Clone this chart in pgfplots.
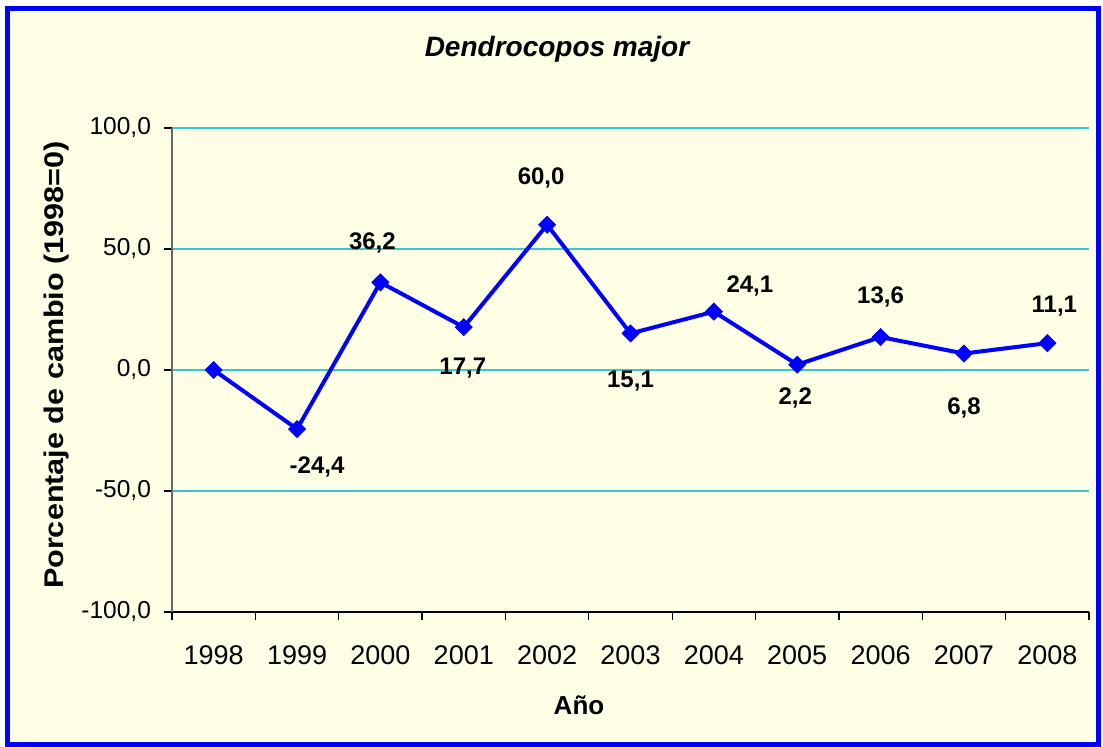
\documentclass[border=0pt]{standalone}
\usepackage{pgfplots}
\pgfplotsset{compat=1.18}
\usepackage{pgfplotstable}
\usepackage{graphicx}
\usepackage{fontspec}
\setmainfont{Liberation Sans}
\definecolor{bgy}{RGB}{255,255,230}
\definecolor{gridc}{RGB}{51,204,204}
\definecolor{lineb}{RGB}{0,0,255}

\pgfplotstableread{
x y label dx dy
0 0 {} 0 0
1 -24.4 {-24,4} 10 -19
2 36.2 {36,2} -4 19.5
3 17.7 {17,7} -0.5 -20.5
4 60.0 {60,0} -3 23.5
5 15.1 {15,1} 0 -24
6 24.1 {24,1} 18 13
7 2.2 {2,2} -1 -16.5
8 13.6 {13,6} 0 20
9 6.8 {6,8} 0 -27
10 11.1 {11,1} 3.5 18.5
}\datatable

\begin{document}
\begin{tikzpicture}
\useasboundingbox (0,0) rectangle (551.5pt,373.5pt);
\fill[white] (0,0) rectangle (551.5pt,373.5pt);
\draw[lineb, line width=2.5pt, fill=bgy] (3.75pt,1.25pt) rectangle (549.25pt,369.25pt);
\begin{axis}[
  at={(86pt,67.5pt)}, anchor=south west,
  width=458.5pt, height=242pt, scale only axis,
  xmin=-0.5, xmax=10.5, ymin=-100, ymax=100,
  axis lines=left, axis line style={-},
  x axis line style={black, line width=0.6pt},
  y axis line style={gray!80!black, line width=0.8pt},
  xtick={-0.5,0.5,...,10.5}, x tick label as interval,
  xticklabels={1998,1999,2000,2001,2002,2003,2004,2005,2006,2007,2008},
  ytick={-100,-50,0,50,100},
  yticklabels={{-100,0},{-50,0},{0,0},{50,0},{100,0}},
  ymajorgrids, grid style={gridc, line width=0.7pt},
  tick align=outside, major tick length=4pt,
  tick style={black, line width=0.6pt},
  xticklabel style={font=\fontsize{13.5}{16}\selectfont, yshift=-9.5pt},
  yticklabel style={font=\fontsize{12.25}{14}\selectfont, xshift=-3pt},
  clip=false,
]
\addplot[lineb, line width=2pt, mark=square*, mark size=3pt,
  mark options={rotate=45, fill=lineb, draw=lineb, line width=0.4pt},
  nodes near coords, point meta=explicit symbolic,
  visualization depends on={\thisrow{dx}\as\dx},
  visualization depends on={\thisrow{dy}\as\dy},
  every node near coord/.append style={anchor=center, xshift=\dx pt, yshift=\dy pt,
    font=\fontsize{12}{14}\selectfont\bfseries, text=black}]
  table[x=x, y=y, meta=label]{\datatable};
\end{axis}
\node[font=\fontsize{14}{16}\selectfont\bfseries\itshape] at (278.5pt,349pt) {Dendrocopos major};
\node[font=\fontsize{13}{15}\selectfont\bfseries] at (289.5pt,21pt) {Año};
\node[rotate=90, font=\fontsize{13.5}{15}\selectfont\bfseries] at (28.5pt,191pt) {\resizebox{224pt}{\height}{Porcentaje de cambio (1998=0)}};
\end{tikzpicture}
\end{document}
